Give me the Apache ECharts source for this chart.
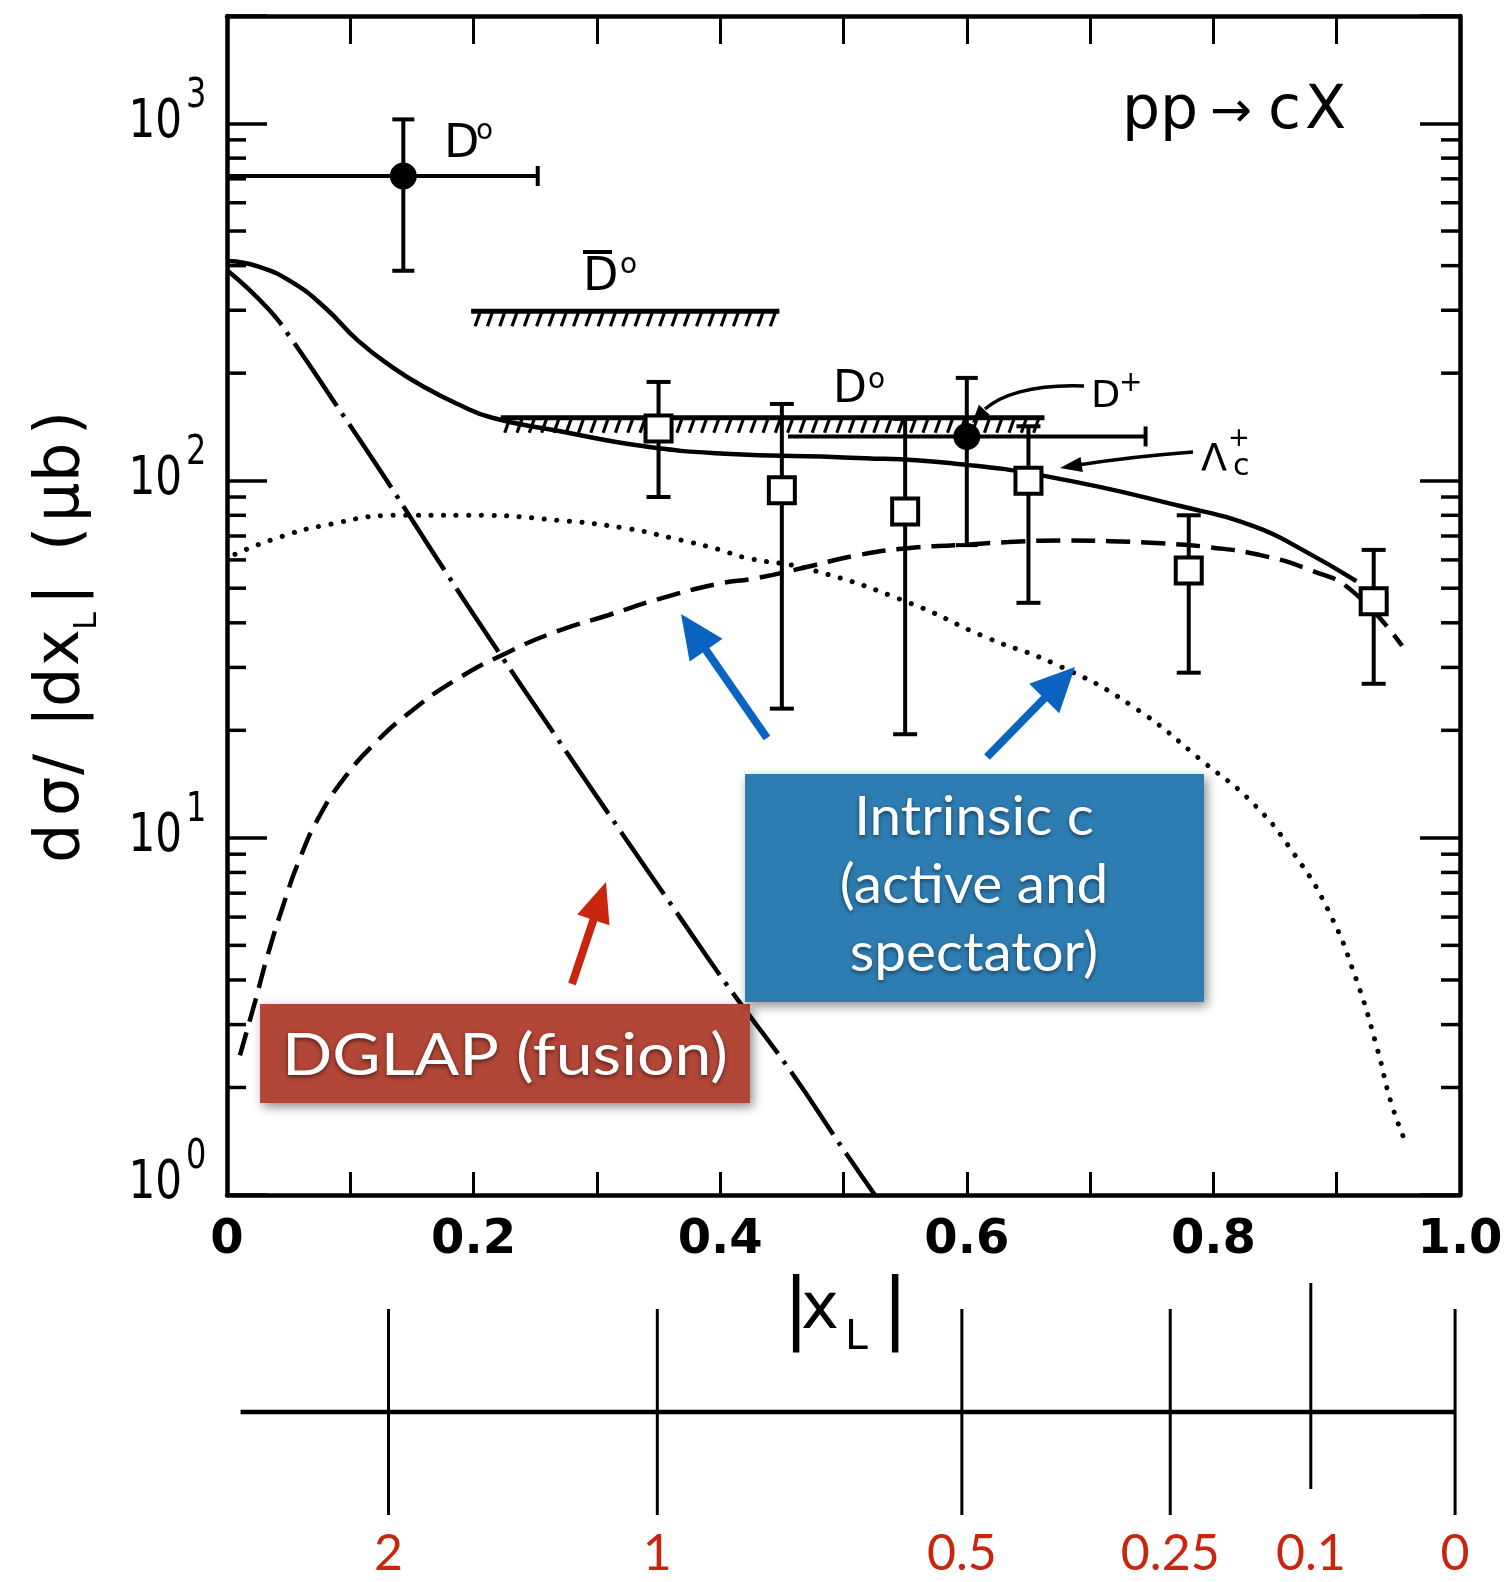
<!DOCTYPE html>
<html>
<head>
<meta charset="utf-8">
<script src="https://cdn.jsdelivr.net/npm/echarts@6/dist/echarts.min.js"></script>
<style>
  html, body { margin: 0; padding: 0; background: #fff; }
  #chart { width: 1508px; height: 1582px; }
</style>
</head>
<body>
<div id="chart"></div>
<script>
// ---- model curves: |x_L| and dsigma/d|x_L| (microbarn) ----
const totalX = [0.001, 0.025, 0.053, 0.080, 0.106, 0.134, 0.161, 0.187, 0.215, 0.268, 0.337, 0.404, 0.505, 0.586, 0.670, 0.774, 0.833, 0.873, 0.916];
const totalY = [412, 398, 359, 304, 247, 208, 182, 164, 150, 138, 125, 119, 116, 112, 102, 84.8, 74.5, 63.8, 52.3];

const fusionX = [0.001, 0.033, 0.053, 0.088, 0.128, 0.171, 0.215, 0.266, 0.317, 0.363, 0.406, 0.456, 0.500, 0.530];
const fusionY = [386, 304, 247, 164, 102, 60, 35.3, 19.4, 10.7, 6.3, 3.85, 2.25, 1.34, 0.95];

const activeX = [0.0105, 0.0227, 0.0333, 0.0454, 0.0592, 0.0754, 0.0957, 0.120, 0.1484, 0.1849, 0.228, 0.268, 0.309, 0.350, 0.398, 0.429, 0.470, 0.511, 0.552, 0.593, 0.634, 0.675, 0.716, 0.757, 0.797, 0.839, 0.879, 0.912, 0.953];
const activeY = [2.46, 3.47, 4.73, 6.44, 8.77, 11.57, 14.79, 18.41, 22.48, 27.6, 33.1, 37.9, 42.0, 46.6, 51.4, 53.3, 57.3, 61.8, 64.7, 66, 67.3, 68, 67.7, 66.8, 65.1, 61.8, 56.1, 49.3, 34.5];

const spectatorX = [0.0065, 0.039, 0.0795, 0.139, 0.201, 0.268, 0.323, 0.363, 0.398, 0.421, 0.472, 0.552, 0.615, 0.674, 0.734, 0.793, 0.833, 0.865, 0.893, 0.916, 0.933, 0.944, 0.956];
const spectatorY = [62.2, 68.8, 75, 80, 80, 77.5, 73.6, 68.8, 64.3, 60.8, 56.5, 45.7, 36.5, 30.4, 23.4, 16.2, 12.4, 9.06, 6.28, 4.0, 2.56, 1.82, 1.40];

// ---- Lambda_c+ measurements (open squares) ----
const lambdaX  = [0.35, 0.45, 0.55, 0.65, 0.78, 0.93];
const lambdaY  = [140, 94, 82, 100, 56, 46];
const lambdaLo = [90, 23, 19.5, 45.5, 29, 27];
const lambdaHi = [189, 164, 149, 142, 80, 64];

// ---- D meson measurements (filled circles, D0 then D+) ----
const mesonX   = [0.143, 0.60];
const mesonY   = [713, 133];
const mesonLo  = [387, 66];
const mesonHi  = [1027, 194];
const mesonXLo = [0, 0.455];
const mesonXHi = [0.252, 0.745];

// ---- hatched limits (anti-D0 upper band, D0 lower band) ----
const bandFrom  = [0.198, 0.222];
const bandTo    = [0.448, 0.663];
const bandLevel = [298, 150];

// ---- axis ticks ----
const decadeValues = [1, 10, 100, 1000];
const minorValues = [2, 3, 4, 5, 6, 7, 8, 9, 20, 30, 40, 50, 60, 70, 80, 90, 200, 300, 400, 500, 600, 700, 800, 900];

// ---- second scale under the |x_L| axis ----
const scalePositions = [0.131, 0.349, 0.596, 0.765, 0.879, 0.996];
const scaleLabels    = ['2', '1', '0.5', '0.25', '0.1', '0'];
const scaleStart = 0.011;

const FIG = "'DejaVu Sans', sans-serif";
const ANN = "Lato, 'Open Sans', sans-serif";
const INK = '#000';

const chart = echarts.init(document.getElementById('chart'), null, { renderer: 'canvas' });

function curve(name, xs, ys, lineStyle) {
  return {
    type: 'line', name, xAxisIndex: 0, yAxisIndex: 0,
    data: xs.map((x, i) => [x, ys[i]]),
    symbol: 'none', showSymbol: false, smooth: 0.5,
    lineStyle: Object.assign({ color: INK }, lineStyle),
    z: 3, silent: true
  };
}

function seg(x1, y1, x2, y2, w) {
  return { type: 'line', shape: { x1, y1, x2, y2 }, style: { stroke: INK, lineWidth: w } };
}

function arrowPoints(x1, y1, x2, y2, shaft, headLen, headW) {
  const dx = x2 - x1, dy = y2 - y1, L = Math.hypot(dx, dy);
  const ux = dx / L, uy = dy / L, nx = -uy, ny = ux;
  const bx = x2 - ux * headLen, by = y2 - uy * headLen;
  return [
    [x1 + nx * shaft / 2, y1 + ny * shaft / 2],
    [bx + nx * shaft / 2, by + ny * shaft / 2],
    [bx + nx * headW / 2, by + ny * headW / 2],
    [x2, y2],
    [bx - nx * headW / 2, by - ny * headW / 2],
    [bx - nx * shaft / 2, by - ny * shaft / 2],
    [x1 - nx * shaft / 2, y1 - ny * shaft / 2]
  ];
}

function headPoints(fromX, fromY, tipX, tipY, len, w) {
  const dx = tipX - fromX, dy = tipY - fromY, L = Math.hypot(dx, dy);
  const ux = dx / L, uy = dy / L, nx = -uy, ny = ux;
  const bx = tipX - ux * len, by = tipY - uy * len;
  return [[tipX, tipY], [bx + nx * w / 2, by + ny * w / 2], [bx - nx * w / 2, by - ny * w / 2]];
}

function txt(text, x, y, size, opts) {
  return Object.assign({
    type: 'text', x, y, z: 50,
    style: Object.assign({ text, font: `${size}px ${FIG}`, fill: INK, align: 'left', verticalAlign: 'middle' }, (opts && opts.style) || {})
  }, (opts && opts.el) || {});
}

// glyph layout of the rotated y-axis title (local x along the reading direction)
const titleGlyphs = [
  ['d', 0, 62, 0], ['σ', 47, 62, 0], ['/', 88, 62, 0], ['|', 136, 62, 0],
  ['d', 156, 62, 0], ['x', 197, 62, 0], ['L', 233, 32, 16], ['|', 258, 62, 0],
  ['(', 312, 62, 0], ['μ', 341, 62, 0], ['b', 381, 62, 0], [')', 428, 62, 0]
];
const titleChildren = titleGlyphs.map(([g, lx, size, dy]) => ({
  type: 'text', x: lx, y: dy - 0.346 * size,
  style: { text: g, font: `${size}px ${FIG}`, fill: INK, align: 'left', verticalAlign: 'middle' }
}));

const option = {
  backgroundColor: '#fff',
  animation: false,
  grid: [
    { left: 227, top: 16, width: 1233, height: 1179, containLabel: false },
    { left: 227, top: 1283, width: 1233, height: 232, containLabel: false }
  ],
  xAxis: [
    {
      gridIndex: 0, type: 'value', min: 0, max: 1, interval: 0.1, position: 'bottom',
      axisLine: { show: true, onZero: false, lineStyle: { color: INK, width: 4.5 } },
      axisTick: { show: true, inside: true, length: 23, lineStyle: { color: INK, width: 3 } },
      splitLine: { show: false },
      axisLabel: {
        show: true, margin: 22, color: INK, fontFamily: FIG, fontSize: 48, fontWeight: 'bold',
        formatter: v => { const k = Math.round(v * 10); if (k % 2) return ''; return k === 0 ? '0' : (k / 10).toFixed(1); }
      }
    },
    {
      gridIndex: 0, type: 'value', min: 0, max: 1, interval: 0.1, position: 'top',
      axisLine: { show: true, onZero: false, lineStyle: { color: INK, width: 4.5 } },
      axisTick: { show: true, inside: true, length: 28, lineStyle: { color: INK, width: 3 } },
      splitLine: { show: false }, axisLabel: { show: false }
    },
    { gridIndex: 1, type: 'value', min: 0, max: 1, show: false }
  ],
  yAxis: [
    {
      gridIndex: 0, type: 'log', logBase: 10, min: 1, max: 2000, position: 'left',
      axisLine: { show: true, onZero: false, lineStyle: { color: INK, width: 4.5 } },
      axisTick: { show: true, inside: true, length: 40, lineStyle: { color: INK, width: 3.5 } },
      splitLine: { show: false }, axisLabel: { show: false }
    },
    {
      gridIndex: 0, type: 'log', logBase: 10, min: 1, max: 2000, position: 'right',
      axisLine: { show: true, onZero: false, lineStyle: { color: INK, width: 4.5 } },
      axisTick: { show: true, inside: true, length: 40, lineStyle: { color: INK, width: 3.5 } },
      splitLine: { show: false }, axisLabel: { show: false }
    },
    { gridIndex: 1, type: 'value', min: 0, max: 1, show: false }
  ],
  series: [
    curve('total', totalX, totalY, { width: 4.5, type: 'solid' }),
    curve('fusion', fusionX, fusionY, { width: 4.5, type: [76, 9, 4, 9], cap: 'butt' }),
    curve('intrinsic active', activeX, activeY, { width: 4.5, type: [24, 11], cap: 'butt' }),
    curve('intrinsic spectator', spectatorX, spectatorY, { width: 5, type: [0.1, 12.5], cap: 'round' }),

    // minor decade ticks on the left and right frame
    {
      type: 'custom', xAxisIndex: 0, yAxisIndex: 0, silent: true, z: 4, clip: false,
      data: minorValues.map(v => [0, v]),
      encode: { x: 0, y: 1 },
      renderItem(params, api) {
        const l = api.coord([0, api.value(1)]);
        const r = api.coord([1, api.value(1)]);
        return { type: 'group', children: [seg(l[0], l[1], l[0] + 19, l[1], 3.5), seg(r[0], r[1], r[0] - 19, r[1], 3.5)] };
      }
    },

    // decade labels 10^n
    {
      type: 'custom', xAxisIndex: 0, yAxisIndex: 0, silent: true, z: 4, clip: false,
      data: decadeValues.map(v => [0, v]),
      encode: { x: 0, y: 1 },
      renderItem(params, api) {
        const v = api.value(1);
        const p = api.coord([0, v]);
        const lift = v === 1 ? -11 : -1;
        const e = Math.round(Math.log10(v));
        return {
          type: 'group', children: [
            { type: 'text', x: p[0] - 45, y: p[1] + lift, scaleX: 0.78,
              style: { text: '10', font: `54px ${FIG}`, fill: INK, align: 'right', verticalAlign: 'middle' } },
            { type: 'text', x: p[0] - 41, y: p[1] + lift - 26, scaleX: 0.8,
              style: { text: String(e), font: `40px ${FIG}`, fill: INK, align: 'left', verticalAlign: 'middle' } }
          ]
        };
      }
    },

    // hatched limit bands
    {
      type: 'custom', xAxisIndex: 0, yAxisIndex: 0, silent: true, z: 4,
      data: bandFrom.map((x0, i) => [x0, bandLevel[i], bandTo[i]]),
      encode: { x: [0, 2], y: 1 },
      renderItem(params, api) {
        const p0 = api.coord([api.value(0), api.value(1)]);
        const p1 = api.coord([api.value(2), api.value(1)]);
        const children = [seg(p0[0], p0[1], p1[0], p1[1], 5)];
        for (let x = p0[0] + 9; x <= p1[0] + 1; x += 12.3) {
          children.push(seg(x, p0[1] + 1, x - 5, p0[1] + 15, 3.2));
        }
        return { type: 'group', children };
      }
    },

    // D meson points with x and y errors
    {
      type: 'custom', xAxisIndex: 0, yAxisIndex: 0, silent: true, z: 6,
      data: mesonX.map((x, i) => [x, mesonY[i], mesonLo[i], mesonHi[i], mesonXLo[i], mesonXHi[i]]),
      encode: { x: [0, 4, 5], y: [1, 2, 3] },
      renderItem(params, api) {
        const x = api.value(0), y = api.value(1);
        const c = api.coord([x, y]);
        const lo = api.coord([x, api.value(2)]);
        const hi = api.coord([x, api.value(3)]);
        const xl = api.coord([api.value(4), y]);
        const xh = api.coord([api.value(5), y]);
        return {
          type: 'group', children: [
            seg(c[0], hi[1], c[0], lo[1], 4),
            seg(c[0] - 11, hi[1], c[0] + 11, hi[1], 4),
            seg(c[0] - 11, lo[1], c[0] + 11, lo[1], 4),
            seg(xl[0], c[1], xh[0], c[1], 4),
            seg(xh[0], c[1] - 10, xh[0], c[1] + 10, 4),
            { type: 'circle', shape: { cx: c[0], cy: c[1], r: 13.5 }, style: { fill: INK } }
          ]
        };
      }
    },

    // Lambda_c+ points (open squares)
    {
      type: 'custom', xAxisIndex: 0, yAxisIndex: 0, silent: true, z: 7,
      data: lambdaX.map((x, i) => [x, lambdaY[i], lambdaLo[i], lambdaHi[i]]),
      encode: { x: 0, y: [1, 2, 3] },
      renderItem(params, api) {
        const x = api.value(0);
        const c = api.coord([x, api.value(1)]);
        const lo = api.coord([x, api.value(2)]);
        const hi = api.coord([x, api.value(3)]);
        return {
          type: 'group', children: [
            seg(c[0], hi[1], c[0], lo[1], 4),
            seg(c[0] - 12, hi[1], c[0] + 12, hi[1], 4),
            seg(c[0] - 12, lo[1], c[0] + 12, lo[1], 4),
            { type: 'rect', shape: { x: c[0] - 13, y: c[1] - 13, width: 26, height: 26 },
              style: { fill: '#fff', stroke: INK, lineWidth: 4 } }
          ]
        };
      }
    },

    // second scale: base line
    {
      type: 'custom', xAxisIndex: 2, yAxisIndex: 2, silent: true, z: 4, clip: false,
      data: [[scaleStart, scalePositions[scalePositions.length - 1]]],
      encode: { x: [0, 1] },
      renderItem(params, api) {
        const cs = params.coordSys;
        const a = api.coord([api.value(0), 0]);
        const b = api.coord([api.value(1), 0]);
        const y = cs.y + 129;
        return seg(a[0], y, b[0], y, 4.5);
      }
    },

    // second scale: ticks and red labels
    {
      type: 'custom', xAxisIndex: 2, yAxisIndex: 2, silent: true, z: 4, clip: false,
      data: scalePositions.map((x, i) => [x, i]),
      encode: { x: 0 },
      renderItem(params, api) {
        const cs = params.coordSys;
        const i = api.value(1);
        const p = api.coord([api.value(0), 0]);
        const label = scaleLabels[i];
        const shift = label === '0.1' ? -26 : 0;
        return {
          type: 'group', children: [
            seg(p[0], cs.y + 26 + shift, p[0], cs.y + 232 + shift, 3),
            { type: 'text', x: p[0], y: cs.y + 271,
              style: { text: label, font: `50px ${ANN}`, fill: '#c8260e', align: 'center', verticalAlign: 'middle' } }
          ]
        };
      }
    }
  ],
  graphic: [
    // y-axis title, rotated to read upwards
    { type: 'group', x: 83, y: 863, rotation: Math.PI / 2, z: 50, children: titleChildren },

    // x-axis title |x_L|
    txt('|', 783, 1314, 78),
    txt('x', 801, 1311, 64),
    txt('L', 845, 1338, 41),
    txt('|', 882, 1314, 78),

    // reaction label
    txt('pp', 1122, 112, 60),
    txt('→', 1210, 114, 50),
    txt('c', 1268, 112, 60),
    txt('X', 1305, 112, 60),

    // particle labels
    txt('D', 444, 145, 46), txt('o', 476, 132, 28),
    { type: 'line', z: 50, shape: { x1: 583, y1: 252, x2: 612, y2: 252 }, style: { stroke: INK, lineWidth: 4 } },
    txt('D', 583, 278, 46), txt('o', 620, 266, 28),
    txt('D', 833, 391, 44), txt('o', 868, 381, 28),
    txt('D', 1091, 397, 38), txt('+', 1119, 384, 28),
    txt('Λ', 1201, 460, 38), txt('+', 1228, 439, 26), txt('c', 1233, 467, 30),

    // D+ pointer
    { type: 'bezierCurve', z: 50, shape: { x1: 1084, y1: 386, cpx1: 1030, cpy1: 384, cpx2: 1000, cpy2: 396, x2: 985, y2: 409 },
      style: { stroke: INK, lineWidth: 3.5, fill: null } },
    { type: 'polygon', z: 50, shape: { points: headPoints(990, 404, 972, 423, 18, 15) }, style: { fill: INK } },

    // Lambda_c pointer
    { type: 'bezierCurve', z: 50, shape: { x1: 1193, y1: 452, cpx1: 1140, cpy1: 456, cpx2: 1110, cpy2: 460, x2: 1078, y2: 465 },
      style: { stroke: INK, lineWidth: 3.5, fill: null } },
    { type: 'polygon', z: 50, shape: { points: headPoints(1085, 464, 1060, 468, 22, 15) }, style: { fill: INK } },

    // annotation boxes
    { type: 'rect', z: 60, shape: { x: 260, y: 1004, width: 490, height: 99 },
      style: { fill: '#b24637', shadowBlur: 10, shadowOffsetX: 3, shadowOffsetY: 4, shadowColor: 'rgba(0,0,0,0.45)' } },
    { type: 'text', z: 61, x: 505, y: 1056, scaleX: 1.14,
      style: { text: 'DGLAP (fusion)', font: `58px ${ANN}`, fill: '#fff', align: 'center', verticalAlign: 'middle',
               textShadowBlur: 4, textShadowColor: 'rgba(0,0,0,0.55)', textShadowOffsetY: 2 } },

    { type: 'rect', z: 60, shape: { x: 745, y: 774, width: 459, height: 228 },
      style: { fill: '#2e7db2', shadowBlur: 10, shadowOffsetX: 3, shadowOffsetY: 4, shadowColor: 'rgba(0,0,0,0.45)' } },
    { type: 'text', z: 61, x: 974, y: 818, scaleX: 1.05,
      style: { text: 'Intrinsic c', font: `54px ${ANN}`, fill: '#fff', align: 'center', verticalAlign: 'middle',
               textShadowBlur: 4, textShadowColor: 'rgba(0,0,0,0.5)', textShadowOffsetY: 2 } },
    { type: 'text', z: 61, x: 974, y: 886, scaleX: 1.05,
      style: { text: '(active and', font: `54px ${ANN}`, fill: '#fff', align: 'center', verticalAlign: 'middle',
               textShadowBlur: 4, textShadowColor: 'rgba(0,0,0,0.5)', textShadowOffsetY: 2 } },
    { type: 'text', z: 61, x: 974, y: 954, scaleX: 1.05,
      style: { text: 'spectator)', font: `54px ${ANN}`, fill: '#fff', align: 'center', verticalAlign: 'middle',
               textShadowBlur: 4, textShadowColor: 'rgba(0,0,0,0.5)', textShadowOffsetY: 2 } },

    // coloured arrows
    { type: 'polygon', z: 62, shape: { points: arrowPoints(572, 984, 606, 882, 8, 40, 34) }, style: { fill: '#c8260e' } },
    { type: 'polygon', z: 62, shape: { points: arrowPoints(767, 738, 681, 614, 8, 44, 40) }, style: { fill: '#0a63c0' } },
    { type: 'polygon', z: 62, shape: { points: arrowPoints(987, 757, 1075, 667, 8, 44, 42) }, style: { fill: '#0a63c0' } }
  ]
};

chart.setOption(option);
</script>
</body>
</html>
